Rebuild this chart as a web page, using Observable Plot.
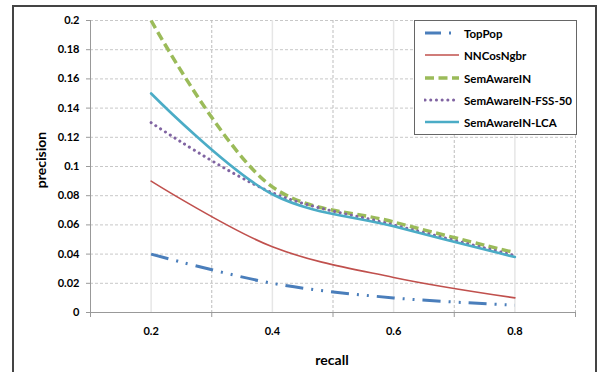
<!DOCTYPE html>
<html>
<head>
<meta charset="utf-8">
<script src="https://cdn.jsdelivr.net/npm/d3@7"></script>
<script src="https://cdn.jsdelivr.net/npm/@observablehq/plot@0.6"></script>
<style>
  html, body { margin: 0; padding: 0; background: #fff; overflow: hidden; }
  #wrap { position: relative; width: 600px; height: 372px; overflow: hidden; font-family: Lato, "Open Sans", sans-serif; }
  #frame { position: absolute; left: 12px; top: 5px; width: 585px; height: 420px; border: 2px solid #444; box-sizing: border-box; pointer-events: none; }
  #chart { position: absolute; left: 0; top: 0; }
  .ttl { position: absolute; font-weight: bold; font-size: 14px; color: #000; white-space: nowrap; }
  #ylab { left: 40px; top: 160px; transform: translate(-50%, -50%) rotate(-90deg); }
  #xlab { left: 332px; top: 359px; transform: translate(-50%, -50%); }
  #legend { position: absolute; left: 414px; top: 20px; width: 163px; height: 115px; border: 1.5px solid #666; background: #fff; box-sizing: border-box; }
  .row { position: absolute; left: 9px; height: 14px; display: flex; align-items: center; font-weight: bold; font-size: 11.5px; color: #000; white-space: nowrap; }
  .row svg { margin-right: 4px; }
</style>
</head>
<body>
<div id="wrap">
  <div id="chart"></div>
  <div class="ttl" id="ylab">precision</div>
  <div class="ttl" id="xlab">recall</div>
  <div id="legend"></div>
  <div id="frame"></div>
</div>
<script>
// ---- data ----
const recall = [0.2, 0.4, 0.6, 0.8];
const topPop = [0.040, 0.020, 0.010, 0.005];
const nnCosNgbr = [0.090, 0.045, 0.024, 0.010];
const semAwareIN = [0.200, 0.086, 0.062, 0.041];
const semAwareFSS50 = [0.130, 0.082, 0.060, 0.039];
const semAwareLCA = [0.150, 0.081, 0.059, 0.038];
const seriesNames = ["TopPop", "NNCosNgbr", "SemAwareIN", "SemAwareIN-FSS-50", "SemAwareIN-LCA"];
const yTicks = [0, 0.02, 0.04, 0.06, 0.08, 0.1, 0.12, 0.14, 0.16, 0.18, 0.2];
const xLabelTicks = [0.2, 0.4, 0.6, 0.8];
const xBoundaryTicks = [0.1, 0.3, 0.5, 0.7, 0.9];

// ---- styles ----
const styles = {
  "TopPop": {stroke: "#4A7EBB", strokeWidth: 3, strokeDasharray: "18,8,2,8,2,8", strokeLinecap: "butt"},
  "NNCosNgbr": {stroke: "#C0504D", strokeWidth: 1.6},
  "SemAwareIN": {stroke: "#9BBB59", strokeWidth: 3.5, strokeDasharray: "9,4.5", strokeLinecap: "butt"},
  "SemAwareIN-FSS-50": {stroke: "#8064A2", strokeWidth: 3, strokeDasharray: "0.1,5.6", strokeLinecap: "round"},
  "SemAwareIN-LCA": {stroke: "#4BACC6", strokeWidth: 2.6}
};
const seriesValues = [topPop, nnCosNgbr, semAwareIN, semAwareFSS50, semAwareLCA];
const data = seriesNames.map((name, i) => recall.map((r, j) => ({series: name, recall: r, precision: seriesValues[i][j]})));

const fmt = d => String(+d.toFixed(2));

const plot = Plot.plot({
  width: 600,
  height: 372,
  marginLeft: 90,
  marginRight: 25,
  marginTop: 20,
  marginBottom: 60,
  style: {fontFamily: "Lato, 'Open Sans', sans-serif", fontSize: "11px", background: "transparent"},
  x: {domain: [0.1, 0.9], axis: null},
  y: {domain: [0, 0.2], axis: null},
  marks: [
    Plot.gridY(yTicks.filter(d => d > 0), {stroke: "#c8c8c8", strokeOpacity: 1, strokeDasharray: "3,2"}),
    Plot.gridX(xBoundaryTicks.filter(d => d > 0.1), {stroke: "#bdbdbd", strokeOpacity: 1, strokeDasharray: "3,2"}),
    Plot.gridX(xLabelTicks, {stroke: "#e6e6e6", strokeOpacity: 1, strokeWidth: 1.5}),
    Plot.ruleX([0.1], {stroke: "#999", strokeWidth: 1}),
    Plot.ruleY([0], {stroke: "#999", strokeWidth: 1}),
    Plot.axisY(yTicks, {anchor: "left", tickSize: 4, tickPadding: 7, stroke: "#999", fontWeight: "bold", fontSize: 11, tickFormat: fmt, label: null}),
    Plot.axisX(xBoundaryTicks, {anchor: "bottom", tickSize: 5, stroke: "#999", tickFormat: () => "", label: null}),
    Plot.axisX(xLabelTicks, {anchor: "bottom", tickSize: 0, tickPadding: 15, fontWeight: "bold", fontSize: 11, tickFormat: fmt, label: null}),
    ...data.map(d => Plot.line(d, {x: "recall", y: "precision", curve: "catmull-rom", ...styles[d[0].series]}))
  ]
});
document.getElementById("chart").appendChild(plot);

// ---- legend ----
const legend = document.getElementById("legend");
const rowTops = [5, 27, 50, 72, 94];
seriesNames.forEach((name, i) => {
  const s = styles[name];
  const row = document.createElement("div");
  row.className = "row";
  row.style.top = rowTops[i] + "px";
  row.innerHTML = `<svg width="36" height="10"><line x1="1" y1="5" x2="35" y2="5" stroke="${s.stroke}" stroke-width="${s.strokeWidth}" ${s.strokeDasharray ? `stroke-dasharray="${name === "TopPop" ? "16,8,2,8" : s.strokeDasharray}"` : ""} stroke-linecap="${s.strokeLinecap || "butt"}"/></svg><span>${name}</span>`;
  legend.appendChild(row);
});
</script>
</body>
</html>
